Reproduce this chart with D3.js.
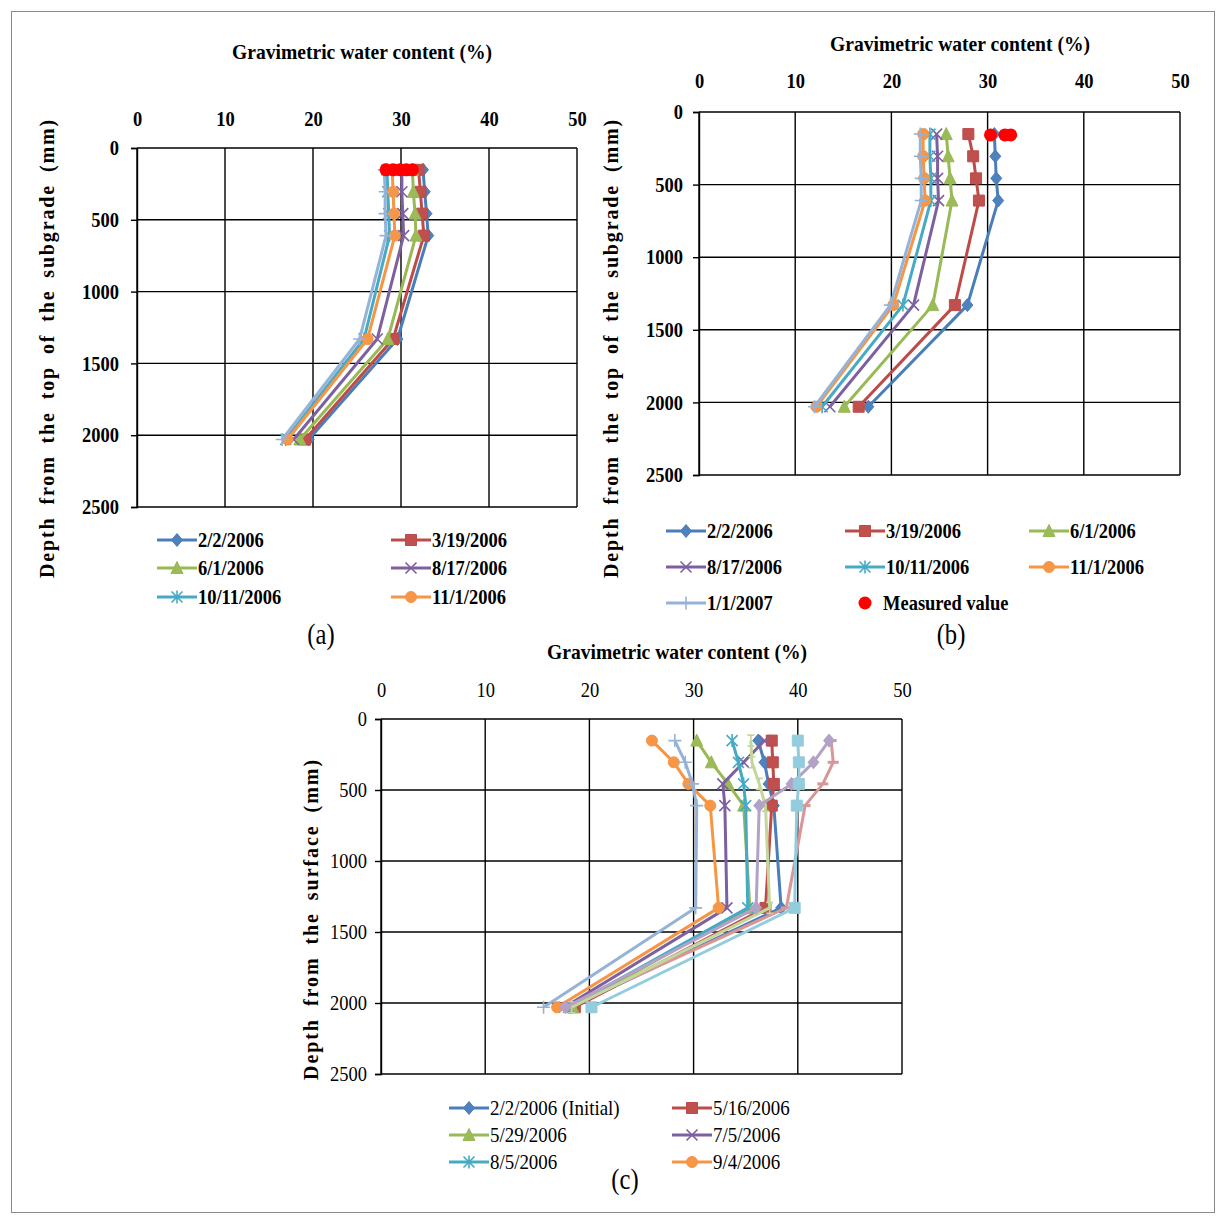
<!DOCTYPE html>
<html>
<head>
<meta charset="utf-8">
<script src="https://cdn.jsdelivr.net/npm/d3@7"></script>
<style>
  html, body { margin: 0; padding: 0; background: #fff; }
  svg { display: block; }
</style>
</head>
<body>
<script>
// ---------- data ----------
const depthMm = [152, 305, 457, 610, 1330, 2030];
const xTicks = [0, 10, 20, 30, 40, 50];
const yTicks = [0, 500, 1000, 1500, 2000, 2500];

// Panel (a): subgrade profiles
const datesA = ["2/2/2006", "3/19/2006", "6/1/2006", "8/17/2006", "10/11/2006", "11/1/2006", "1/1/2007"];
const moistureA = [
  [32.5, 32.7, 32.9, 33.1, 29.6, 19.5],
  [32.0, 32.2, 32.4, 32.6, 29.1, 19.1],
  [31.3, 31.4, 31.6, 31.7, 28.5, 18.5],
  [30.1, 30.1, 30.2, 30.3, 27.3, 17.8],
  [28.4, 28.5, 28.6, 28.7, 25.8, 16.9],
  [29.0, 29.1, 29.2, 29.3, 26.2, 17.1],
  [28.1, 28.2, 28.2, 28.3, 25.3, 16.5]
];
const legendCountA = 6;
const measuredA = [28.3, 29.1, 29.9, 30.6, 31.3];
const measuredDepthA = 152;

// Panel (b): subgrade profiles
const datesB = ["2/2/2006", "3/19/2006", "6/1/2006", "8/17/2006", "10/11/2006", "11/1/2006", "1/1/2007"];
const moistureB = [
  [30.7, 30.8, 30.9, 31.1, 27.9, 17.6],
  [28.0, 28.5, 28.8, 29.1, 26.6, 16.6],
  [25.7, 25.9, 26.1, 26.3, 24.3, 15.1],
  [24.7, 24.8, 24.8, 24.9, 22.3, 13.6],
  [24.0, 24.0, 24.1, 24.1, 21.2, 12.8],
  [23.3, 23.3, 23.4, 23.5, 20.2, 12.2],
  [23.0, 23.0, 23.1, 23.1, 19.9, 12.0]
];
const measuredB = [30.3, 31.8, 32.4];
const measuredDepthB = 158;
const measuredLabel = "Measured value";

// Panel (c): profiles from the surface
const datesC = ["2/2/2006 (Initial)", "5/16/2006", "5/29/2006", "7/5/2006", "8/5/2006", "9/4/2006",
                "series 7", "series 8", "series 9", "series 10", "series 11"];
const moistureC = [
  [36.2, 36.8, 37.2, 37.7, 38.4, 18.2],
  [37.5, 37.6, 37.7, 37.5, 36.9, 18.6],
  [30.3, 31.7, 33.3, 34.8, 35.4, 18.4],
  [36.8, 34.8, 32.8, 33.0, 33.2, 17.6],
  [33.7, 34.3, 34.8, 35.0, 35.2, 18.0],
  [26.0, 28.1, 29.5, 31.6, 32.4, 16.9],
  [28.2, 29.2, 29.9, 30.3, 30.2, 15.6],
  [43.2, 43.4, 42.4, 40.7, 38.9, 17.9],
  [35.5, 35.6, 36.3, 36.9, 37.3, 18.3],
  [43.0, 41.5, 39.4, 36.3, 36.0, 17.7],
  [40.0, 40.1, 40.1, 39.9, 39.7, 20.2]
];
const legendCountC = 6;

const xTitle = "Gravimetric water content (%)";
const yTitleSub = "Depth from the top of the subgrade (mm)";
const yTitleSurf = "Depth from the surface (mm)";

// ---------- styles ----------
const seriesStyles = [
  { color: "#4A7EBB", fill: "#4F81BD", marker: "diamond" },
  { color: "#BE4B48", fill: "#C0504D", marker: "square" },
  { color: "#98B954", fill: "#9BBB59", marker: "triangle" },
  { color: "#7D60A0", fill: "#8064A2", marker: "x" },
  { color: "#46AAC5", fill: "#4BACC6", marker: "star" },
  { color: "#F69544", fill: "#F79646", marker: "circle" },
  { color: "#95B3D7", fill: "#95B3D7", marker: "plus" },
  { color: "#D99694", fill: "#D99694", marker: "dash" },
  { color: "#C3D69B", fill: "#C3D69B", marker: "ibeam" },
  { color: "#B3A2C7", fill: "#B3A2C7", marker: "diamond" },
  { color: "#93CDDD", fill: "#93CDDD", marker: "square" }
];
const measuredColor = "#FF0000";
const serif = "'Liberation Serif', 'Times New Roman', serif";

const W = 1226, H = 1223;
const svg = d3.select("body").append("svg").attr("width", W).attr("height", H);

// outer frame
svg.append("rect").attr("x", 11.5).attr("y", 11.5).attr("width", W - 23).attr("height", H - 22)
  .attr("fill", "none").attr("stroke", "#8a8a8a").attr("stroke-width", 1);

// narrow the glyphs of a text selection to a fraction of their natural width
function condense(sel, factor) {
  sel.each(function () {
    const len = this.getComputedTextLength();
    d3.select(this).attr("textLength", len * factor).attr("lengthAdjust", "spacingAndGlyphs");
  });
}

function markerPath(type) {
  const s = 5.5;
  switch (type) {
    case "diamond": return `M0,${-s - 1}L${s},0L0,${s + 1}L${-s},0Z`;
    case "square": return `M${-s},${-s}h${2 * s}v${2 * s}h${-2 * s}Z`;
    case "triangle": return `M0,${-s - 1}L${s + 0.5},${s}L${-s - 0.5},${s}Z`;
    case "circle": return d3.symbol(d3.symbolCircle, Math.PI * s * s)();
    case "x": return `M${-s},${-s}L${s},${s}M${s},${-s}L${-s},${s}`;
    case "star": return `M${-s},${-s}L${s},${s}M${s},${-s}L${-s},${s}M0,${-s - 1}V${s + 1}`;
    case "plus": return `M${-s - 1},0H${s + 1}M0,${-s - 1}V${s + 1}`;
    case "dash": return `M${-s},0H${s}`;
    case "ibeam": return `M0,${-s}V${s}M-3.5,${-s}H3.5M-3.5,${s}H3.5`;
  }
}
const filledMarkers = new Set(["diamond", "square", "triangle", "circle"]);

function drawMarker(sel, style) {
  const filled = filledMarkers.has(style.marker);
  sel.append("path")
    .attr("d", markerPath(style.marker))
    .attr("fill", filled ? style.fill : "none")
    .attr("stroke", style.color)
    .attr("stroke-width", style.marker === "dash" ? 3 : (filled ? 1 : 1.6));
}

function drawPanel(p) {
  const x = d3.scaleLinear().domain([0, 50]).range([p.x0, p.x1]);
  const y = d3.scaleLinear().domain([0, 2500]).range([p.y0, p.y1]);
  const g = svg.append("g");
  const weight = p.bold ? "bold" : "normal";

  // grid
  g.append("g").selectAll("line").data(xTicks).join("line")
    .attr("x1", d => x(d)).attr("x2", d => x(d)).attr("y1", p.y0).attr("y2", p.y1)
    .attr("stroke", "#000").attr("stroke-width", 1.4);
  g.append("g").selectAll("line").data(yTicks).join("line")
    .attr("x1", p.x0).attr("x2", p.x1).attr("y1", d => y(d)).attr("y2", d => y(d))
    .attr("stroke", "#000").attr("stroke-width", 1.4);

  // y axis
  const ya = g.append("g").attr("transform", `translate(${p.x0},0)`)
    .call(d3.axisLeft(y).tickValues(yTicks).tickSize(6).tickPadding(p.yPad).tickFormat(d3.format("d")));
  ya.select(".domain").attr("stroke", "#000").attr("stroke-width", 1.4);
  ya.selectAll(".tick line").attr("stroke", "#000").attr("stroke-width", 1.4);
  ya.selectAll(".tick text").attr("font-family", serif).attr("font-size", p.tickSize)
    .attr("font-weight", weight).attr("fill", "#000").call(condense, p.tickCondense);

  // x tick labels above the plot
  const xa = g.append("g").attr("transform", `translate(0,${p.y0})`)
    .call(d3.axisTop(x).tickValues(xTicks).tickSize(0).tickPadding(p.xPad).tickFormat(d3.format("d")));
  xa.select(".domain").remove();
  xa.selectAll(".tick text").attr("font-family", serif).attr("font-size", p.tickSize)
    .attr("font-weight", weight).attr("fill", "#000").call(condense, p.tickCondense);

  // titles
  g.append("text").attr("x", p.titleX).attr("y", p.titleY).attr("text-anchor", "middle")
    .attr("font-family", serif).attr("font-size", 21).attr("font-weight", "bold")
    .attr("textLength", 260).attr("lengthAdjust", "spacingAndGlyphs").text(xTitle);

  // vertical title: spread letters and words to span the plot height
  const yt = g.append("text").attr("transform", `translate(${p.yTitleX},${p.yTitleY}) rotate(-90)`)
    .attr("text-anchor", "middle").attr("dy", "0.35em")
    .attr("font-family", serif).attr("font-size", 20).attr("font-weight", "bold")
    .text(p.yTitle);
  const natural = yt.node().getComputedTextLength();
  const gaps = p.yTitle.split(" ").length - 1;
  const wordGap = 5;
  const letterGap = Math.max(0, (p.yTitleLen - natural - gaps * wordGap) / p.yTitle.length);
  yt.attr("letter-spacing", letterGap).attr("word-spacing", wordGap);

  // series
  const line = d3.line().x(d => x(d[0])).y(d => y(d[1]));
  p.values.forEach((vals, i) => {
    const st = seriesStyles[i];
    const pts = vals.map((v, k) => [v, depthMm[k]]);
    g.append("path").datum(pts).attr("d", line).attr("fill", "none")
      .attr("stroke", st.color).attr("stroke-width", 3).attr("stroke-linejoin", "round");
    g.append("g").selectAll("g").data(pts).join("g")
      .attr("transform", d => `translate(${x(d[0])},${y(d[1])})`)
      .each(function () { drawMarker(d3.select(this), st); });
  });

  // measured values
  if (p.measured) {
    g.append("g").selectAll("circle").data(p.measured).join("circle")
      .attr("cx", d => x(d)).attr("cy", y(p.measuredDepth)).attr("r", 6.5)
      .attr("fill", measuredColor);
  }

  // legend
  const lg = g.append("g");
  p.legend.forEach((item, i) => {
    const col = i % p.legendCols.length, row = Math.floor(i / p.legendCols.length);
    const lx = p.legendCols[col], ly = p.legendRows[row];
    const it = lg.append("g").attr("transform", `translate(${lx},${ly})`);
    if (item.measured) {
      it.append("circle").attr("cx", 20).attr("cy", 0).attr("r", 6.5).attr("fill", measuredColor);
    } else {
      const st = seriesStyles[item.index];
      it.append("line").attr("x1", 0).attr("x2", 40).attr("y1", 0).attr("y2", 0)
        .attr("stroke", st.color).attr("stroke-width", 3);
      drawMarker(it.append("g").attr("transform", "translate(20,0)"), st);
    }
    it.append("text").attr("x", item.measured ? 38 : 41).attr("dy", "0.35em")
      .attr("font-family", serif).attr("font-size", p.legendSize).attr("font-weight", weight)
      .attr("fill", "#000").text(item.label).call(condense, p.legendCondense);
  });

  // panel letter
  g.append("text").attr("x", p.letterX).attr("y", p.letterY).attr("text-anchor", "middle")
    .attr("font-family", serif).attr("font-size", 30).attr("fill", "#000").text(p.letter)
    .call(condense, 0.82);
}

drawPanel({
  x0: 137, x1: 577, y0: 148, y1: 507, bold: true, tickSize: 21, tickCondense: 0.88, yPad: 12, xPad: 22,
  titleX: 362, titleY: 59, yTitleX: 47, yTitleY: 348, yTitleLen: 460, yTitle: yTitleSub,
  values: moistureA, measured: measuredA, measuredDepth: measuredDepthA,
  legend: datesA.slice(0, legendCountA).map((d, i) => ({ label: d, index: i })),
  legendCols: [157, 391], legendRows: [540, 568, 597], legendSize: 21, legendCondense: 0.88,
  letter: "(a)", letterX: 321, letterY: 644
});

drawPanel({
  x0: 699, x1: 1180, y0: 112, y1: 475, bold: true, tickSize: 21, tickCondense: 0.88, yPad: 10, xPad: 24,
  titleX: 960, titleY: 51, yTitleX: 611, yTitleY: 348, yTitleLen: 460, yTitle: yTitleSub,
  values: moistureB, measured: measuredB, measuredDepth: measuredDepthB,
  legend: datesB.map((d, i) => ({ label: d, index: i })).concat([{ label: measuredLabel, measured: true }]),
  legendCols: [666, 845, 1029], legendRows: [531, 567, 603], legendSize: 21, legendCondense: 0.88,
  letter: "(b)", letterX: 951, letterY: 644
});

drawPanel({
  x0: 381, x1: 902, y0: 719, y1: 1074, bold: false, tickSize: 21, tickCondense: 0.88, yPad: 8, xPad: 22,
  titleX: 677, titleY: 659, yTitleX: 311, yTitleY: 919, yTitleLen: 322, yTitle: yTitleSurf,
  values: moistureC,
  legend: datesC.slice(0, legendCountC).map((d, i) => ({ label: d, index: i })),
  legendCols: [449, 672], legendRows: [1108, 1135, 1162], legendSize: 21, legendCondense: 0.9,
  letter: "(c)", letterX: 625, letterY: 1189
});
</script>
</body>
</html>
